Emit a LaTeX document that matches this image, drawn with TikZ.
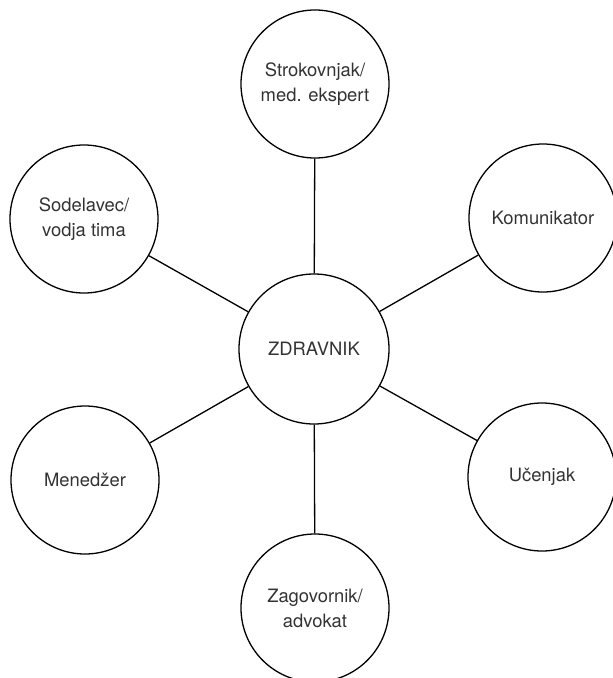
\documentclass[tikz,border=0pt]{standalone}
\usepackage{fontspec}
\setmainfont{TeX Gyre Heros}
\begin{document}
\begin{tikzpicture}[x=1pt,y=-1pt,
  role/.style={circle,draw=black,line width=1.3pt,minimum size=148pt,inner sep=0pt,
    align=center,text=black!80,font=\fontsize{18.4}{25}\selectfont},
  link/.style={draw=black,line width=1.3pt}]
\useasboundingbox (0,0) rectangle (613,678);
\begin{scope}
\clip (0,0) rectangle (613,678);
\node[role,minimum size=150pt] (c) at (314,349) {ZDRAVNIK};
\node[role] (t) at (315,84) {Strokovnjak/\\med. ekspert};
\node[role] (lu) at (84,219) {Sodelavec/\\vodja tima};
\node[role] (ru) at (543,218) {Komunikator};
\node[role] (ll) at (85,480) {Menedžer};
\node[role] (rl) at (542,477) {Učenjak};
\node[role] (b) at (315,608) {Zagovornik/\\advokat};
\foreach \n in {t,lu,ru,ll,rl,b} \draw[link] (c) -- (\n);
\end{scope}
\end{tikzpicture}
\end{document}
